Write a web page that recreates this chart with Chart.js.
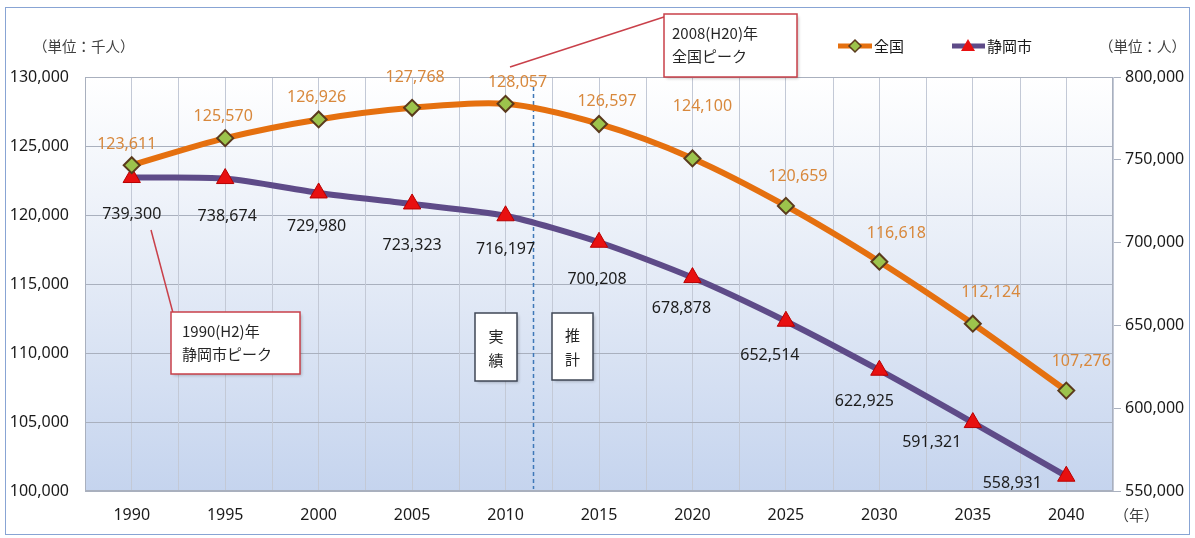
<!DOCTYPE html>
<html><head><meta charset="utf-8">
<script src="https://cdn.jsdelivr.net/npm/chart.js@4"></script>
<style>html,body{margin:0;padding:0;background:#fff}</style>
</head><body>
<canvas id="c" width="1195" height="538"></canvas>
<script>
// ---- data ----
const YEARS = ['1990','1995','2000','2005','2010','2015','2020','2025','2030','2035','2040'];
const NATIONAL = [123611,125570,126926,127768,128057,126597,124100,120659,116618,112124,107276]; // 全国 (千人)
const SHIZUOKA = [739300,738674,729980,723323,716197,700208,678878,652514,622925,591321,558931]; // 静岡市 (人)
const LEFT_TICKS = [100000,105000,110000,115000,120000,125000,130000];
const RIGHT_TICKS = [550000,600000,650000,700000,750000,800000];
const SERIES_NAMES = ['全国','静岡市'];
const DIVIDER_INDEX = 4.29; // 実績/推計 boundary, between 2010 and 2015

// ---- styling ----
const NUM_FONT = '"Noto Sans", "Open Sans", sans-serif';
const JP_FONT = '"Noto Sans CJK JP", "Noto Sans", sans-serif';
const ORANGE = '#E5700F';
const PURPLE = '#5E4B88';
const NAT_LABEL_OFF = [[-5,-21],[-2,-22],[-2,-22],[3,-30],[12,-21],[8,-23],[10,-52],[12,-29],[17,-28],[18,-31],[15,-29]];
const SHI_LABEL_OFF = [[0,37],[2,38],[-2,33],[0,41],[0,34],[-2,37],[-11,31],[-16,34],[-15,31],[-41,20],[-54,7]];

const fmt = v => v.toLocaleString('en-US');

const bgPlugin = {
  id: 'bg',
  beforeDraw(chart) {
    const {ctx, chartArea: a} = chart;
    ctx.save();
    ctx.fillStyle = '#ffffff';
    ctx.fillRect(0, 0, chart.width, chart.height);
    ctx.strokeStyle = '#88a4d4';
    ctx.lineWidth = 1;
    ctx.strokeRect(5.5, 7.5, 1184, 527);
    const g = ctx.createLinearGradient(0, a.top, 0, a.bottom);
    g.addColorStop(0, '#ffffff');
    g.addColorStop(0.5, '#e3eaf6');
    g.addColorStop(1, '#c5d4ee');
    ctx.fillStyle = g;
    ctx.fillRect(a.left, a.top, a.right - a.left, a.bottom - a.top);
    ctx.restore();
  },
  beforeDatasetsDraw(chart) {
    const {ctx, chartArea: a, scales} = chart;
    const xs = scales.x;
    ctx.save();
    ctx.strokeStyle = '#c3c9d6';
    ctx.lineWidth = 1;
    for (let i = 0; i <= YEARS.length; i++) {
      const x = Math.round(xs.getPixelForValue(i - 0.5)) + 0.5;
      ctx.beginPath(); ctx.moveTo(x, a.top); ctx.lineTo(x, a.bottom); ctx.stroke();
    }
    ctx.strokeStyle = '#a9b0be';
    ctx.strokeRect(a.left + 0.5, a.top + 0.5, a.right - a.left - 1, a.bottom - a.top - 1);
    // 実績 / 推計 divider
    const dx = Math.round(xs.getPixelForValue(DIVIDER_INDEX)) + 0.5;
    ctx.strokeStyle = '#3f78b8';
    ctx.lineWidth = 1.5;
    ctx.setLineDash([4, 3]);
    ctx.beginPath(); ctx.moveTo(dx, a.top + 10); ctx.lineTo(dx, a.bottom - 2); ctx.stroke();
    ctx.restore();
  }
};

const labelPlugin = {
  id: 'labels',
  afterDatasetsDraw(chart) {
    const ctx = chart.ctx;
    ctx.save();
    ctx.font = '16px ' + NUM_FONT;
    ctx.textAlign = 'center';
    ctx.textBaseline = 'middle';
    const cfg = [
      {ds: 0, data: NATIONAL, color: '#D8883C', off: NAT_LABEL_OFF},
      {ds: 1, data: SHIZUOKA, color: '#1c1c1c', off: SHI_LABEL_OFF}
    ];
    cfg.forEach(c => {
      const meta = chart.getDatasetMeta(c.ds);
      meta.data.forEach((el, i) => {
        ctx.fillStyle = c.color;
        ctx.fillText(fmt(c.data[i]), el.x + c.off[i][0], el.y + c.off[i][1]);
      });
    });
    ctx.restore();
  }
};

function box(ctx, x, y, w, h, stroke) {
  ctx.save();
  ctx.shadowColor = 'rgba(0,0,0,0.25)';
  ctx.shadowBlur = 3; ctx.shadowOffsetX = 1.5; ctx.shadowOffsetY = 1.5;
  ctx.fillStyle = '#ffffff';
  ctx.fillRect(x, y, w, h);
  ctx.restore();
  ctx.save();
  ctx.strokeStyle = stroke; ctx.lineWidth = 1.5;
  ctx.strokeRect(x, y, w, h);
  ctx.restore();
}

const annPlugin = {
  id: 'ann',
  afterDraw(chart) {
    const ctx = chart.ctx;
    ctx.save();
    // unit labels
    ctx.fillStyle = '#404040';
    ctx.textBaseline = 'middle';
    ctx.textAlign = 'left';
    ctx.font = '14.5px ' + JP_FONT;
    ctx.fillText('（単位：千人）', 33, 46);
    ctx.fillText('（単位：人）', 1099, 46);
    ctx.font = '15px ' + JP_FONT;
    ctx.fillText('（年）', 1114, 515);

    // legend
    ctx.lineWidth = 5;
    ctx.strokeStyle = ORANGE;
    ctx.beginPath(); ctx.moveTo(838, 46); ctx.lineTo(872, 46); ctx.stroke();
    ctx.fillStyle = '#9cc34c'; ctx.strokeStyle = '#5a3a1c'; ctx.lineWidth = 1.5;
    ctx.beginPath(); ctx.moveTo(855, 40); ctx.lineTo(861, 46); ctx.lineTo(855, 52); ctx.lineTo(849, 46); ctx.closePath(); ctx.fill(); ctx.stroke();
    ctx.lineWidth = 5; ctx.strokeStyle = PURPLE;
    ctx.beginPath(); ctx.moveTo(952, 46); ctx.lineTo(985, 46); ctx.stroke();
    ctx.fillStyle = '#e81010';
    ctx.beginPath(); ctx.moveTo(968, 39); ctx.lineTo(975, 51); ctx.lineTo(961, 51); ctx.closePath(); ctx.fill();
    ctx.fillStyle = '#1a1a1a';
    ctx.font = '15px ' + JP_FONT;
    ctx.fillText(SERIES_NAMES[0], 874, 46);
    ctx.fillText(SERIES_NAMES[1], 987, 46);

    // callout: national peak
    ctx.strokeStyle = '#C9404A'; ctx.lineWidth = 1.5;
    ctx.beginPath(); ctx.moveTo(510, 67); ctx.lineTo(667, 16); ctx.stroke();
    box(ctx, 664, 14, 133, 63, '#C9404A');
    ctx.fillStyle = '#262626';
    ctx.font = '15px ' + JP_FONT;
    ctx.fillText('2008(H20)年', 672, 33);
    ctx.fillText('全国ピーク', 672, 56);

    // callout: Shizuoka peak
    ctx.strokeStyle = '#C9404A'; ctx.lineWidth = 1.5;
    ctx.beginPath(); ctx.moveTo(151, 230); ctx.lineTo(173, 313); ctx.stroke();
    box(ctx, 171, 312, 129, 62, '#C9404A');
    ctx.fillStyle = '#262626';
    ctx.fillText('1990(H2)年', 182, 331);
    ctx.fillText('静岡市ピーク', 182, 354);

    // 実績 / 推計 boxes
    box(ctx, 475, 313, 42, 68, '#3f4756');
    box(ctx, 552, 313, 41, 67, '#3f4756');
    ctx.fillStyle = '#262626';
    ctx.textAlign = 'center';
    ctx.font = '15px ' + JP_FONT;
    ctx.fillText('実', 496, 336); ctx.fillText('績', 496, 360);
    ctx.fillText('推', 572.5, 335); ctx.fillText('計', 572.5, 359);
    ctx.restore();
  }
};

new Chart(document.getElementById('c'), {
  type: 'line',
  data: {
    labels: YEARS,
    datasets: [
      {
        label: SERIES_NAMES[0], data: NATIONAL, yAxisID: 'y',
        borderColor: ORANGE, borderWidth: 6, tension: 0.3,
        pointStyle: 'rectRot', pointRadius: 8, pointBackgroundColor: '#9cc34c',
        pointBorderColor: '#5a3a1c', pointBorderWidth: 2, fill: false
      },
      {
        label: SERIES_NAMES[1], data: SHIZUOKA, yAxisID: 'y2',
        borderColor: PURPLE, borderWidth: 6, tension: 0.25,
        pointStyle: 'triangle', pointRadius: 10, pointBackgroundColor: '#e81010',
        pointBorderColor: '#b80000', pointBorderWidth: 1, fill: false
      }
    ]
  },
  options: {
    responsive: false, animation: false,
    devicePixelRatio: 1,
    layout: {padding: {top: 77, left: 0, right: 0, bottom: 0}},
    plugins: {legend: {display: false}, tooltip: {enabled: false}},
    scales: {
      x: {
        type: 'category', offset: true,
        grid: {display: true, offset: false, color: '#c3c9d6', drawTicks: false},
        border: {display: false},
        ticks: {padding: 15, color: '#1a1a1a', font: {family: NUM_FONT, size: 16}, maxRotation: 0},
        afterFit(s) { s.height = 47; }
      },
      y: {
        position: 'left', min: 100000, max: 130000,
        afterBuildTicks(s) { s.ticks = LEFT_TICKS.map(v => ({value: v})); },
        grid: {color: '#a9b0be', drawTicks: false},
        border: {display: false},
        ticks: {padding: 16, color: '#1a1a1a', font: {family: NUM_FONT, size: 16}, callback: v => fmt(v)},
        afterFit(s) { s.width = 85; }
      },
      y2: {
        position: 'right', min: 550000, max: 800000,
        afterBuildTicks(s) { s.ticks = RIGHT_TICKS.map(v => ({value: v})); },
        grid: {drawOnChartArea: false, drawTicks: true, tickLength: 8, tickColor: '#a9b0be'},
        border: {display: true, color: '#a9b0be'},
        ticks: {padding: 4, color: '#1a1a1a', font: {family: NUM_FONT, size: 16}, callback: v => fmt(v)},
        afterFit(s) { s.width = 82; }
      }
    }
  },
  plugins: [bgPlugin, labelPlugin, annPlugin]
});
</script>
</body></html>
